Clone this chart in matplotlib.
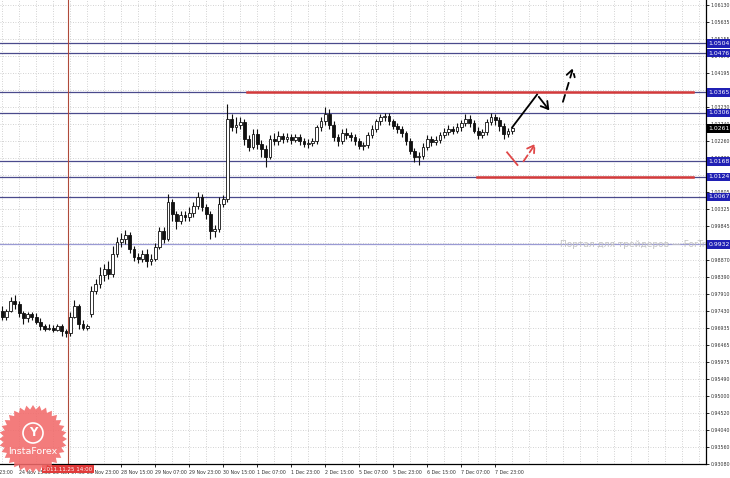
import numpy as np
import matplotlib.pyplot as plt
from matplotlib import font_manager
from matplotlib.patches import Polygon, Ellipse
from matplotlib.transforms import blended_transform_factory

# EURCHF-style H1 chart, resampled to 2-hour candles
opens = [0.9744, 0.9727, 0.9744, 0.9770, 0.9764, 0.9736, 0.9722, 0.9733, 0.9727, 0.9713,
         0.9699, 0.9693, 0.9696, 0.9690, 0.9699, 0.9685, 0.9679, 0.9727, 0.9758, 0.9707,
         0.9696, 0.9733, 0.9801, 0.9821, 0.9846, 0.9863, 0.9849, 0.9906, 0.9940, 0.9948,
         0.9959, 0.9920, 0.9897, 0.9891, 0.9906, 0.9886, 0.9891, 0.9925, 0.9971, 0.9948,
         1.0053, 1.0019, 0.9999, 1.0016, 1.0010, 1.0022, 1.0041, 1.0067, 1.0039, 1.0019,
         0.9971, 0.9976, 1.0047, 1.0061, 1.0288, 1.0265, 1.0271, 1.0279, 1.0231, 1.0208,
         1.0245, 1.0217, 1.0203, 1.0180, 1.0231, 1.0225, 1.0239, 1.0231, 1.0237, 1.0228,
         1.0237, 1.0225, 1.0217, 1.0220, 1.0225, 1.0265, 1.0282, 1.0302, 1.0273, 1.0237,
         1.0225, 1.0248, 1.0242, 1.0237, 1.0225, 1.0211, 1.0214, 1.0242, 1.0259, 1.0282,
         1.0293, 1.0296, 1.0282, 1.0268, 1.0259, 1.0248, 1.0225, 1.0197, 1.0180, 1.0183,
         1.0208, 1.0231, 1.0222, 1.0228, 1.0242, 1.0251, 1.0259, 1.0256, 1.0265, 1.0276,
         1.0290, 1.0276, 1.0256, 1.0242, 1.0251, 1.0279, 1.0293, 1.0285, 1.0268, 1.0245,
         1.0254]
highs = [0.9756, 0.9750, 0.9784, 0.9787, 0.9770, 0.9744, 0.9741, 0.9741, 0.9736, 0.9722,
         0.9705, 0.9705, 0.9702, 0.9707, 0.9705, 0.9693, 0.9739, 0.9773, 0.9764, 0.9716,
         0.9705, 0.9815, 0.9835, 0.9869, 0.9877, 0.9886, 0.9928, 0.9954, 0.9965, 0.9973,
         0.9968, 0.9928, 0.9908, 0.9917, 0.9920, 0.9906, 0.9937, 0.9982, 0.9982, 1.0075,
         1.0061, 1.0027, 1.0027, 1.0027, 1.0039, 1.0053, 1.0081, 1.0075, 1.0047, 1.0027,
         0.9988, 1.0067, 1.0073, 1.0330, 1.0302, 1.0293, 1.0293, 1.0288, 1.0242, 1.0259,
         1.0259, 1.0228, 1.0214, 1.0242, 1.0248, 1.0254, 1.0248, 1.0248, 1.0245, 1.0245,
         1.0245, 1.0234, 1.0231, 1.0234, 1.0273, 1.0293, 1.0324, 1.0316, 1.0282, 1.0245,
         1.0259, 1.0262, 1.0251, 1.0245, 1.0234, 1.0222, 1.0251, 1.0271, 1.0290, 1.0302,
         1.0307, 1.0305, 1.0290, 1.0276, 1.0268, 1.0256, 1.0234, 1.0206, 1.0194, 1.0220,
         1.0242, 1.0239, 1.0239, 1.0251, 1.0262, 1.0271, 1.0268, 1.0276, 1.0285, 1.0302,
         1.0299, 1.0285, 1.0265, 1.0259, 1.0288, 1.0305, 1.0302, 1.0293, 1.0276, 1.0262,
         1.0268]
lows = [0.9716, 0.9716, 0.9739, 0.9750, 0.9727, 0.9707, 0.9713, 0.9716, 0.9705, 0.9690,
        0.9685, 0.9688, 0.9682, 0.9685, 0.9673, 0.9668, 0.9673, 0.9722, 0.9693, 0.9688,
        0.9690, 0.9727, 0.9790, 0.9807, 0.9829, 0.9835, 0.9840, 0.9897, 0.9925, 0.9934,
        0.9908, 0.9886, 0.9880, 0.9883, 0.9869, 0.9874, 0.9886, 0.9920, 0.9937, 0.9942,
        0.9999, 0.9976, 0.9990, 0.9999, 0.9999, 1.0010, 1.0033, 1.0027, 1.0005, 0.9948,
        0.9954, 0.9968, 1.0039, 1.0053, 1.0254, 1.0248, 1.0259, 1.0214, 1.0197, 1.0203,
        1.0203, 1.0180, 1.0152, 1.0174, 1.0214, 1.0214, 1.0220, 1.0222, 1.0217, 1.0222,
        1.0214, 1.0208, 1.0206, 1.0211, 1.0217, 1.0256, 1.0273, 1.0259, 1.0225, 1.0211,
        1.0217, 1.0231, 1.0225, 1.0214, 1.0203, 1.0200, 1.0206, 1.0234, 1.0251, 1.0273,
        1.0282, 1.0271, 1.0259, 1.0248, 1.0237, 1.0214, 1.0189, 1.0166, 1.0157, 1.0174,
        1.0200, 1.0211, 1.0214, 1.0220, 1.0234, 1.0242, 1.0245, 1.0248, 1.0256, 1.0268,
        1.0265, 1.0248, 1.0231, 1.0234, 1.0242, 1.0271, 1.0273, 1.0256, 1.0231, 1.0237,
        1.0245]
closes = [0.9727, 0.9744, 0.9770, 0.9764, 0.9736, 0.9722, 0.9733, 0.9727, 0.9713, 0.9699,
          0.9693, 0.9696, 0.9690, 0.9699, 0.9685, 0.9679, 0.9727, 0.9758, 0.9707, 0.9696,
          0.9699, 0.9801, 0.9821, 0.9846, 0.9863, 0.9849, 0.9906, 0.9940, 0.9948, 0.9959,
          0.9920, 0.9897, 0.9891, 0.9906, 0.9886, 0.9891, 0.9925, 0.9971, 0.9948, 1.0053,
          1.0019, 0.9999, 1.0016, 1.0010, 1.0022, 1.0041, 1.0067, 1.0039, 1.0019, 0.9971,
          0.9976, 1.0047, 1.0061, 1.0288, 1.0265, 1.0271, 1.0279, 1.0231, 1.0208, 1.0245,
          1.0217, 1.0203, 1.0180, 1.0231, 1.0225, 1.0239, 1.0231, 1.0237, 1.0228, 1.0237,
          1.0225, 1.0217, 1.0220, 1.0225, 1.0265, 1.0282, 1.0302, 1.0273, 1.0237, 1.0225,
          1.0248, 1.0242, 1.0237, 1.0225, 1.0211, 1.0214, 1.0242, 1.0259, 1.0282, 1.0293,
          1.0296, 1.0282, 1.0268, 1.0259, 1.0248, 1.0225, 1.0197, 1.0180, 1.0183, 1.0208,
          1.0231, 1.0222, 1.0228, 1.0242, 1.0251, 1.0259, 1.0256, 1.0265, 1.0276, 1.0290,
          1.0276, 1.0256, 1.0242, 1.0251, 1.0279, 1.0293, 1.0285, 1.0268, 1.0245, 1.0254,
          1.0262]

# horizontal levels (label shown in blue box on the price scale)
levels = [1.0504, 1.0476, 1.0365, 1.0306, 1.0168, 1.0124, 1.0067]
level_faint = 0.9932
last_price = 1.0261

# red support / resistance segments (hours from left edge)
red_levels = [1.0365, 1.0124]
red_starts = [116, 224.5]
red_end = 326

price_ticks = [1.06130, 1.05635, 1.05155, 1.04675, 1.04195, 1.03710, 1.03230, 1.02740,
               1.02260, 1.01780, 1.01295, 1.00805, 1.00325, 0.99845, 0.99365, 0.98870,
               0.98390, 0.97910, 0.97430, 0.96935, 0.96465, 0.95975, 0.95490, 0.95000,
               0.94520, 0.94040, 0.93560, 0.93080]

time_ticks = [9, 25, 41, 57, 73, 89, 105, 121, 137, 153, 169, 185, 201, 217, 233]
time_labels = ["24 Nov 15:00", "25 Nov 07:00", "25 Nov 23:00", "28 Nov 15:00",
               "29 Nov 07:00", "29 Nov 23:00", "30 Nov 15:00", "1 Dec 07:00",
               "1 Dec 23:00", "2 Dec 15:00", "5 Dec 07:00", "5 Dec 23:00",
               "6 Dec 15:00", "7 Dec 07:00", "7 Dec 23:00"]
first_label = (-9, "23 Nov 23:00")
marker_time = (32, "2011.11.25 14:00")

# forecast arrows (hour, price)
path_main = [(241, 1.0265), (252.7, 1.0358), (259.3, 1.0307)]
path_dash = [(264.5, 1.0330), (270.1, 1.0442)]
path_red = [(238.6, 1.0194), (243.5, 1.0158), (245.6, 1.0162), (252.7, 1.0225)]


def pick_font():
    for name in ["Liberation Sans Narrow", "DejaVu Sans Condensed"]:
        try:
            font_manager.findfont(name, fallback_to_default=False)
            return name, 4.3
        except ValueError:
            pass
    return "DejaVu Sans", 3.4


FONT, FS = pick_font()
plt.rcParams['font.family'] = [FONT, "DejaVu Sans"]

fig = plt.figure(figsize=(7.3, 4.78), dpi=100)
ax = fig.add_axes([0, 14 / 478, 706 / 730, 464 / 478])
ax.set_xlim(0, 332.2)
ax.set_ylim(0.9314, 1.0627)

# grid
for h in np.arange(1, 333, 8):
    ax.axvline(h, color="#c4c4c4", lw=0.6, ls=(0, (1, 2)), zorder=0)
for p in price_ticks:
    ax.axhline(p, color="#c4c4c4", lw=0.6, ls=(0, (1, 2)), zorder=0)

# candles
o = np.array(opens)
c = np.array(closes)
x = np.arange(len(closes)) * 2 + 1
up = c >= o
ax.vlines(x, lows, highs, color="#111111", lw=0.8, zorder=3)
ax.bar(x[up], (c - o)[up], bottom=o[up], width=1.3, color="white",
       edgecolor="#111111", lw=0.6, zorder=4)
ax.bar(x[~up], (o - c)[~up], bottom=c[~up], width=1.3, color="#111111",
       edgecolor="#111111", lw=0.6, zorder=4)

# level lines
for lv in levels:
    ax.axhline(lv, color="#4a4a8c", lw=0.9, zorder=2)
ax.axhline(level_faint, color="#9a9ad4", lw=0.9, zorder=2)
ax.text(263.5, level_faint, "Портал для трейдеров — ForTrader.ru", color="#c2c2c2",
        fontsize=6.5, family="DejaVu Sans", va="center", ha="left", zorder=2,
        clip_on=True)

# vertical time marker
ax.axvline(marker_time[0], color="#b04a3a", lw=0.8, zorder=2)

for lv, xs in zip(red_levels, red_starts):
    ax.plot([xs, red_end], [lv, lv], color="#d43a3a", lw=1.8, zorder=5)

# arrows
head = "->,head_length=0.5,head_width=0.3"
xs, ys = zip(*path_main)
ax.plot(xs[:2], ys[:2], color="black", lw=1.3, zorder=6)
ax.annotate("", xy=path_main[2], xytext=path_main[1],
            arrowprops=dict(arrowstyle=head, color="black", lw=1.3), zorder=6)
ax.annotate("", xy=path_dash[1], xytext=path_dash[0],
            arrowprops=dict(arrowstyle=head, color="black", lw=1.3,
                            linestyle=(0, (4, 3))), zorder=6)
xs, ys = zip(*path_red)
ax.plot(xs[:2], ys[:2], color="#e04848", lw=1.3, zorder=6)
ax.annotate("", xy=path_red[3], xytext=path_red[2],
            arrowprops=dict(arrowstyle=head, color="#e04848", lw=1.3,
                            linestyle=(0, (4, 2))), zorder=6)

# axes styling
for s in ["left", "top"]:
    ax.spines[s].set_visible(False)
ax.spines["right"].set_linewidth(0.9)
ax.spines["bottom"].set_linewidth(0.9)
ax.yaxis.tick_right()
ax.set_yticks(price_ticks)
ax.set_yticklabels([f"{p:.5f}" for p in price_ticks], fontsize=FS, color="#333333")
ax.tick_params(axis="y", length=2, width=0.6, pad=1.5)
ax.set_xticks(time_ticks)
ax.set_xticklabels(time_labels, fontsize=FS, color="#333333", ha="left")
ax.tick_params(axis="x", length=2.5, width=0.6, pad=2)

bx = blended_transform_factory(ax.transData, ax.transAxes)
ax.text(first_label[0], -0.0125, first_label[1], transform=bx, fontsize=FS,
        color="#333333", ha="left", va="top", clip_on=False)
ax.text(marker_time[0], -0.006, marker_time[1], transform=bx, fontsize=FS + 0.6,
        color="white", ha="center", va="top", zorder=10,
        bbox=dict(boxstyle="square,pad=0.3", fc="#e03a3a", ec="none"))

# price-scale boxes
by = blended_transform_factory(ax.transAxes, ax.transData)
for lv in levels + [level_faint]:
    ax.text(1.004, lv, f"{lv:.4f}", transform=by, fontsize=FS + 1.0, color="white",
            ha="left", va="center", zorder=10,
            bbox=dict(boxstyle="square,pad=0.3", fc="#2020b4", ec="none"))
ax.text(1.004, last_price, f"{last_price:.4f}", transform=by, fontsize=FS + 1.0,
        color="white", ha="left", va="center", zorder=10,
        bbox=dict(boxstyle="square,pad=0.3", fc="black", ec="none"))

# InstaForex badge (sunburst) drawn in figure pixels
W, H = 730, 478
cx, cy, r = 33, 39, 34
ang = np.linspace(0, 2 * np.pi, 64, endpoint=False)
rad = np.where(np.arange(64) % 2 == 0, r, r * 0.87)
pts = np.column_stack([(cx + rad * np.cos(ang)) / W, (cy + rad * np.sin(ang)) / H])
fig.add_artist(Polygon(pts, closed=True, transform=fig.transFigure,
                       fc="#f26a6a", ec="none", alpha=0.88))
fig.text(cx / W, (cy - 13) / H, "InstaForex", color="white", fontsize=6.8,
         family="DejaVu Sans", ha="center", va="center")
fig.add_artist(Ellipse((cx / W, (cy + 6) / H), 20 / W, 20 / H,
                       transform=fig.transFigure, fc="none", ec="white", lw=1.2))
fig.text(cx / W, (cy + 6) / H, "Y", color="white", fontsize=8.5, fontweight="bold",
         family="DejaVu Sans", ha="center", va="center")

fig.savefig("out.png", dpi=100)
